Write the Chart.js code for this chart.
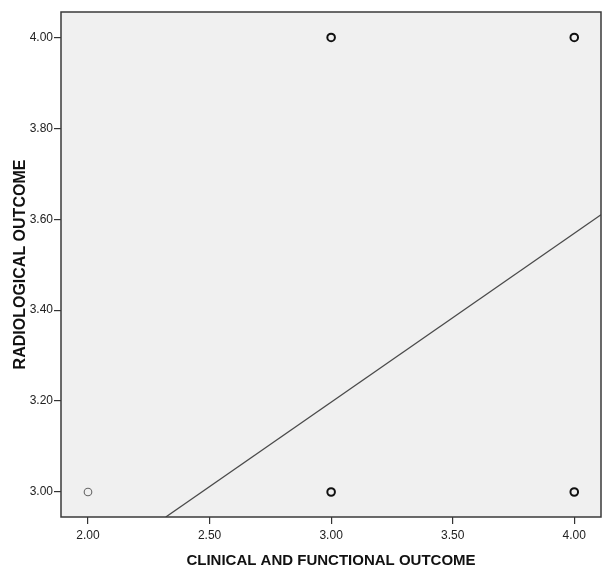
<!DOCTYPE html>
<html>
<head>
<meta charset="utf-8">
<script src="https://cdn.jsdelivr.net/npm/chart.js@4"></script>
<style>
  html, body { margin: 0; padding: 0; background: #ffffff; }
  #wrap { width: 607px; height: 569px; position: relative; }
</style>
</head>
<body>
<div id="wrap"><canvas id="c"></canvas></div>
<script>
// Observed cases (clinical/functional outcome vs radiological outcome)
const clinicalOutcome = [2, 3, 3, 4, 4];
const radiologicalOutcome = [3, 3, 4, 3, 4];
const caseCounts = [1, 2, 2, 2, 2];

// Fit line end points
const fitX = [2.32, 4.11];
const fitY = [2.945, 3.61];

// Axis ticks and ranges
const xTicks = [2.0, 2.5, 3.0, 3.5, 4.0];
const yTicks = [3.0, 3.2, 3.4, 3.6, 3.8, 4.0];
const xRange = [1.889, 4.11];
const yRange = [2.945, 4.056];

const xTitle = 'CLINICAL AND FUNCTIONAL OUTCOME';
const yTitle = 'RADIOLOGICAL OUTCOME';

const narrow = "'Liberation Sans Narrow', 'Arial Narrow', 'Liberation Sans', Arial, sans-serif";
const regular = "'Liberation Sans', Arial, sans-serif";

const plotFrame = {
  id: 'plotFrame',
  beforeDraw(chart) {
    const {ctx, chartArea: a} = chart;
    ctx.save();
    ctx.fillStyle = '#f0f0f0';
    ctx.fillRect(a.left, a.top, a.right - a.left, a.bottom - a.top);
    ctx.restore();
  },
  afterDraw(chart) {
    const {ctx, chartArea: a} = chart;
    ctx.save();
    ctx.strokeStyle = '#3a3a3a';
    ctx.lineWidth = 1.5;
    ctx.strokeRect(a.left, a.top, a.right - a.left, a.bottom - a.top);
    ctx.restore();
  }
};

const points = clinicalOutcome.map((x, i) => ({x, y: radiologicalOutcome[i]}));
const fitPoints = fitX.map((x, i) => ({x, y: fitY[i]}));

new Chart(document.getElementById('c'), {
  type: 'scatter',
  data: {
    datasets: [
      {
        label: 'Fit',
        type: 'line',
        data: fitPoints,
        borderColor: '#4a4a4a',
        borderWidth: 1.3,
        pointRadius: 0,
        fill: false,
        order: 2
      },
      {
        label: 'Cases',
        data: points,
        pointStyle: 'circle',
        pointRadius: 3.8,
        backgroundColor: 'rgba(0,0,0,0)',
        borderColor: ctx => caseCounts[ctx.dataIndex] > 1 ? '#111111' : '#666666',
        borderWidth: ctx => caseCounts[ctx.dataIndex] > 1 ? 2 : 1.1,
        order: 1
      }
    ]
  },
  options: {
    responsive: true,
    maintainAspectRatio: false,
    animation: false,
    events: [],
    layout: { padding: { left: 0, top: 12, right: 4, bottom: 0 } },
    plugins: { legend: { display: false }, tooltip: { enabled: false } },
    scales: {
      x: {
        type: 'linear',
        min: xRange[0], max: xRange[1],
        afterBuildTicks: s => { s.ticks = xTicks.map(v => ({value: v})); },
        afterFit: s => { s.height = 52; },
        border: { display: false },
        grid: { drawOnChartArea: false, drawTicks: true, tickLength: 7, color: '#333333', lineWidth: 1.2 },
        ticks: {
          color: '#222222',
          padding: 4,
          maxRotation: 0,
          font: { family: narrow, size: 12 },
          callback: v => Number(v).toFixed(2)
        },
        title: {
          display: true,
          text: xTitle,
          color: '#111111',
          font: { family: narrow, size: 15, weight: 'bold', lineHeight: 1 },
          padding: { top: 0, bottom: 1 }
        }
      },
      y: {
        type: 'linear',
        min: yRange[0], max: yRange[1],
        afterBuildTicks: s => { s.ticks = yTicks.map(v => ({value: v})); },
        afterFit: s => { s.width = 61; },
        border: { display: false },
        grid: { drawOnChartArea: false, drawTicks: true, tickLength: 7, color: '#333333', lineWidth: 1.2 },
        ticks: {
          color: '#222222',
          padding: 1,
          font: { family: narrow, size: 12 },
          callback: v => Number(v).toFixed(2)
        },
        title: {
          display: true,
          text: yTitle,
          color: '#111111',
          font: { family: regular, size: 16, weight: 'bold', lineHeight: 1 },
          padding: { top: 13, bottom: 0 }
        }
      }
    }
  },
  plugins: [plotFrame]
});
</script>
</body>
</html>
